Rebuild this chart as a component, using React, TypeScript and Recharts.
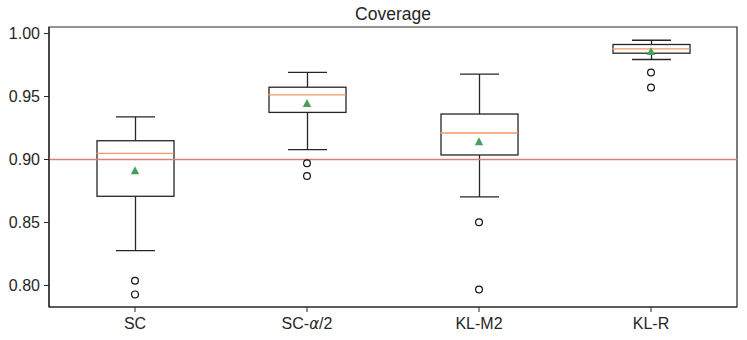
import React from 'react';
import {
  ComposedChart,
  Bar,
  Scatter,
  XAxis,
  YAxis,
  ReferenceLine,
  ReferenceArea,
} from 'recharts';

const categories = ['SC', 'SC-α/2', 'KL-M2', 'KL-R'];
const whiskerLow = [0.8277, 0.9078, 0.8703, 0.9794];
const q1 = [0.8708, 0.9374, 0.9036, 0.9844];
const median = [0.9049, 0.9513, 0.921, 0.9878];
const q3 = [0.9149, 0.9574, 0.9361, 0.9913];
const whiskerHigh = [0.9339, 0.9691, 0.9678, 0.9947];
const mean = [0.8911, 0.9445, 0.9141, 0.9857];
const outlierA = [0.8037, 0.897, 0.8502, 0.9691];
const outlierB = [0.7929, 0.8869, 0.7968, 0.9572];
const yTicks = [0.8, 0.85, 0.9, 0.95, 1.0];
const yDomain = [0.7829, 1.0052];
const referenceValue = 0.9;
const title = 'Coverage';

const data = categories.map((name, i) => ({
  name,
  whisker: [whiskerLow[i], whiskerHigh[i]],
  box: [q1[i], q3[i]],
  median: median[i],
  mean: mean[i],
  outA: outlierA[i],
  outB: outlierB[i],
}));

const INK = '#262626';
const FONT = '"Liberation Sans", Arial, sans-serif';

const WhiskerShape = (p: any) => {
  const { x, y, width, height } = p;
  const top = Math.min(y, y + height);
  const bot = Math.max(y, y + height);
  const cx = x + width / 2;
  return (
    <g stroke={INK} strokeWidth={1.3} fill="none">
      <line x1={cx} x2={cx} y1={top} y2={bot} />
      <line x1={x} x2={x + width} y1={top} y2={top} />
      <line x1={x} x2={x + width} y1={bot} y2={bot} />
    </g>
  );
};

const BoxShape = (p: any) => {
  const { x, y, width, height } = p;
  const top = Math.min(y, y + height);
  return (
    <rect
      x={x}
      y={top}
      width={width}
      height={Math.abs(height)}
      fill="#ffffff"
      stroke={INK}
      strokeWidth={1.3}
    />
  );
};

const MedianShape = (p: any) => {
  const { cx, cy } = p;
  if (cx == null || cy == null) return <g />;
  return (
    <line
      x1={cx - 38.7}
      x2={cx + 38.7}
      y1={cy}
      y2={cy}
      stroke="#f39a63"
      strokeWidth={1.4}
    />
  );
};

const MeanShape = (p: any) => {
  const { cx, cy } = p;
  if (cx == null || cy == null) return <g />;
  return (
    <path
      d={`M${cx},${cy - 4.5} L${cx + 4.2},${cy + 3.5} L${cx - 4.2},${cy + 3.5} Z`}
      fill="#44a05c"
    />
  );
};

const OutlierShape = (p: any) => {
  const { cx, cy } = p;
  if (cx == null || cy == null) return <g />;
  return <circle cx={cx} cy={cy} r={3.4} fill="none" stroke="#111" strokeWidth={1.2} />;
};

const XTick = (p: any) => {
  const { x, y, payload } = p;
  const label: string = String(payload.value);
  const parts = label.split('α');
  return (
    <text x={x} y={y} dy="0.71em" textAnchor="middle" fill={INK} fontSize={16} fontFamily={FONT}>
      {parts.length > 1 ? (
        <>
          <tspan>{parts[0]}</tspan>
          <tspan fontStyle="italic" fontFamily='"DejaVu Sans", sans-serif' fontSize={15}>α</tspan>
          <tspan>{parts[1]}</tspan>
        </>
      ) : (
        label
      )}
    </text>
  );
};

export default function App() {
  return (
    <div style={{ position: 'absolute', left: 0, top: 0, width: 747, height: 340, background: '#fff' }}>
      <ComposedChart
        width={747}
        height={340}
        data={data}
        margin={{ top: 27, right: 10, bottom: 0, left: 0 }}
      >
        <XAxis
          dataKey="name"
          type="category"
          height={33}
          tick={<XTick />}
          tickSize={5}
          tickMargin={6}
          stroke={INK}
          axisLine={{ stroke: INK, strokeWidth: 1.2 }}
          tickLine={{ stroke: INK, strokeWidth: 1 }}
          interval={0}
        />
        <XAxis xAxisId="w" dataKey="name" hide />
        <XAxis xAxisId="b" dataKey="name" hide />
        <YAxis
          type="number"
          domain={yDomain}
          allowDataOverflow
          ticks={yTicks}
          tickFormatter={(v: number) => v.toFixed(2)}
          width={49}
          tickSize={5}
          tickMargin={4}
          tick={{ fill: INK, fontSize: 16, fontFamily: FONT }}
          axisLine={{ stroke: INK, strokeWidth: 1.2 }}
          tickLine={{ stroke: INK, strokeWidth: 1 }}
        />
        <ReferenceLine y={referenceValue} stroke="#d97f7f" strokeWidth={1.5} />
        <Bar xAxisId="w" dataKey="whisker" barSize={39} shape={<WhiskerShape />} isAnimationActive={false} />
        <Bar xAxisId="b" dataKey="box" barSize={77} shape={<BoxShape />} isAnimationActive={false} />
        <Scatter dataKey="median" shape={<MedianShape />} isAnimationActive={false} />
        <Scatter dataKey="mean" shape={<MeanShape />} isAnimationActive={false} />
        <Scatter dataKey="outA" shape={<OutlierShape />} isAnimationActive={false} />
        <Scatter dataKey="outB" shape={<OutlierShape />} isAnimationActive={false} />
        <ReferenceArea
          y1={yDomain[0]}
          y2={yDomain[1]}
          fill="none"
          fillOpacity={0}
          stroke={INK}
          strokeWidth={1.2}
          ifOverflow="visible"
        />
      </ComposedChart>
      <svg width={747} height={30} style={{ position: 'absolute', left: 0, top: 0, pointerEvents: 'none' }}>
        <text x={393} y={19.5} textAnchor="middle" fontSize={17.5} fontFamily={FONT} fill={INK}>
          {title}
        </text>
      </svg>
    </div>
  );
}
